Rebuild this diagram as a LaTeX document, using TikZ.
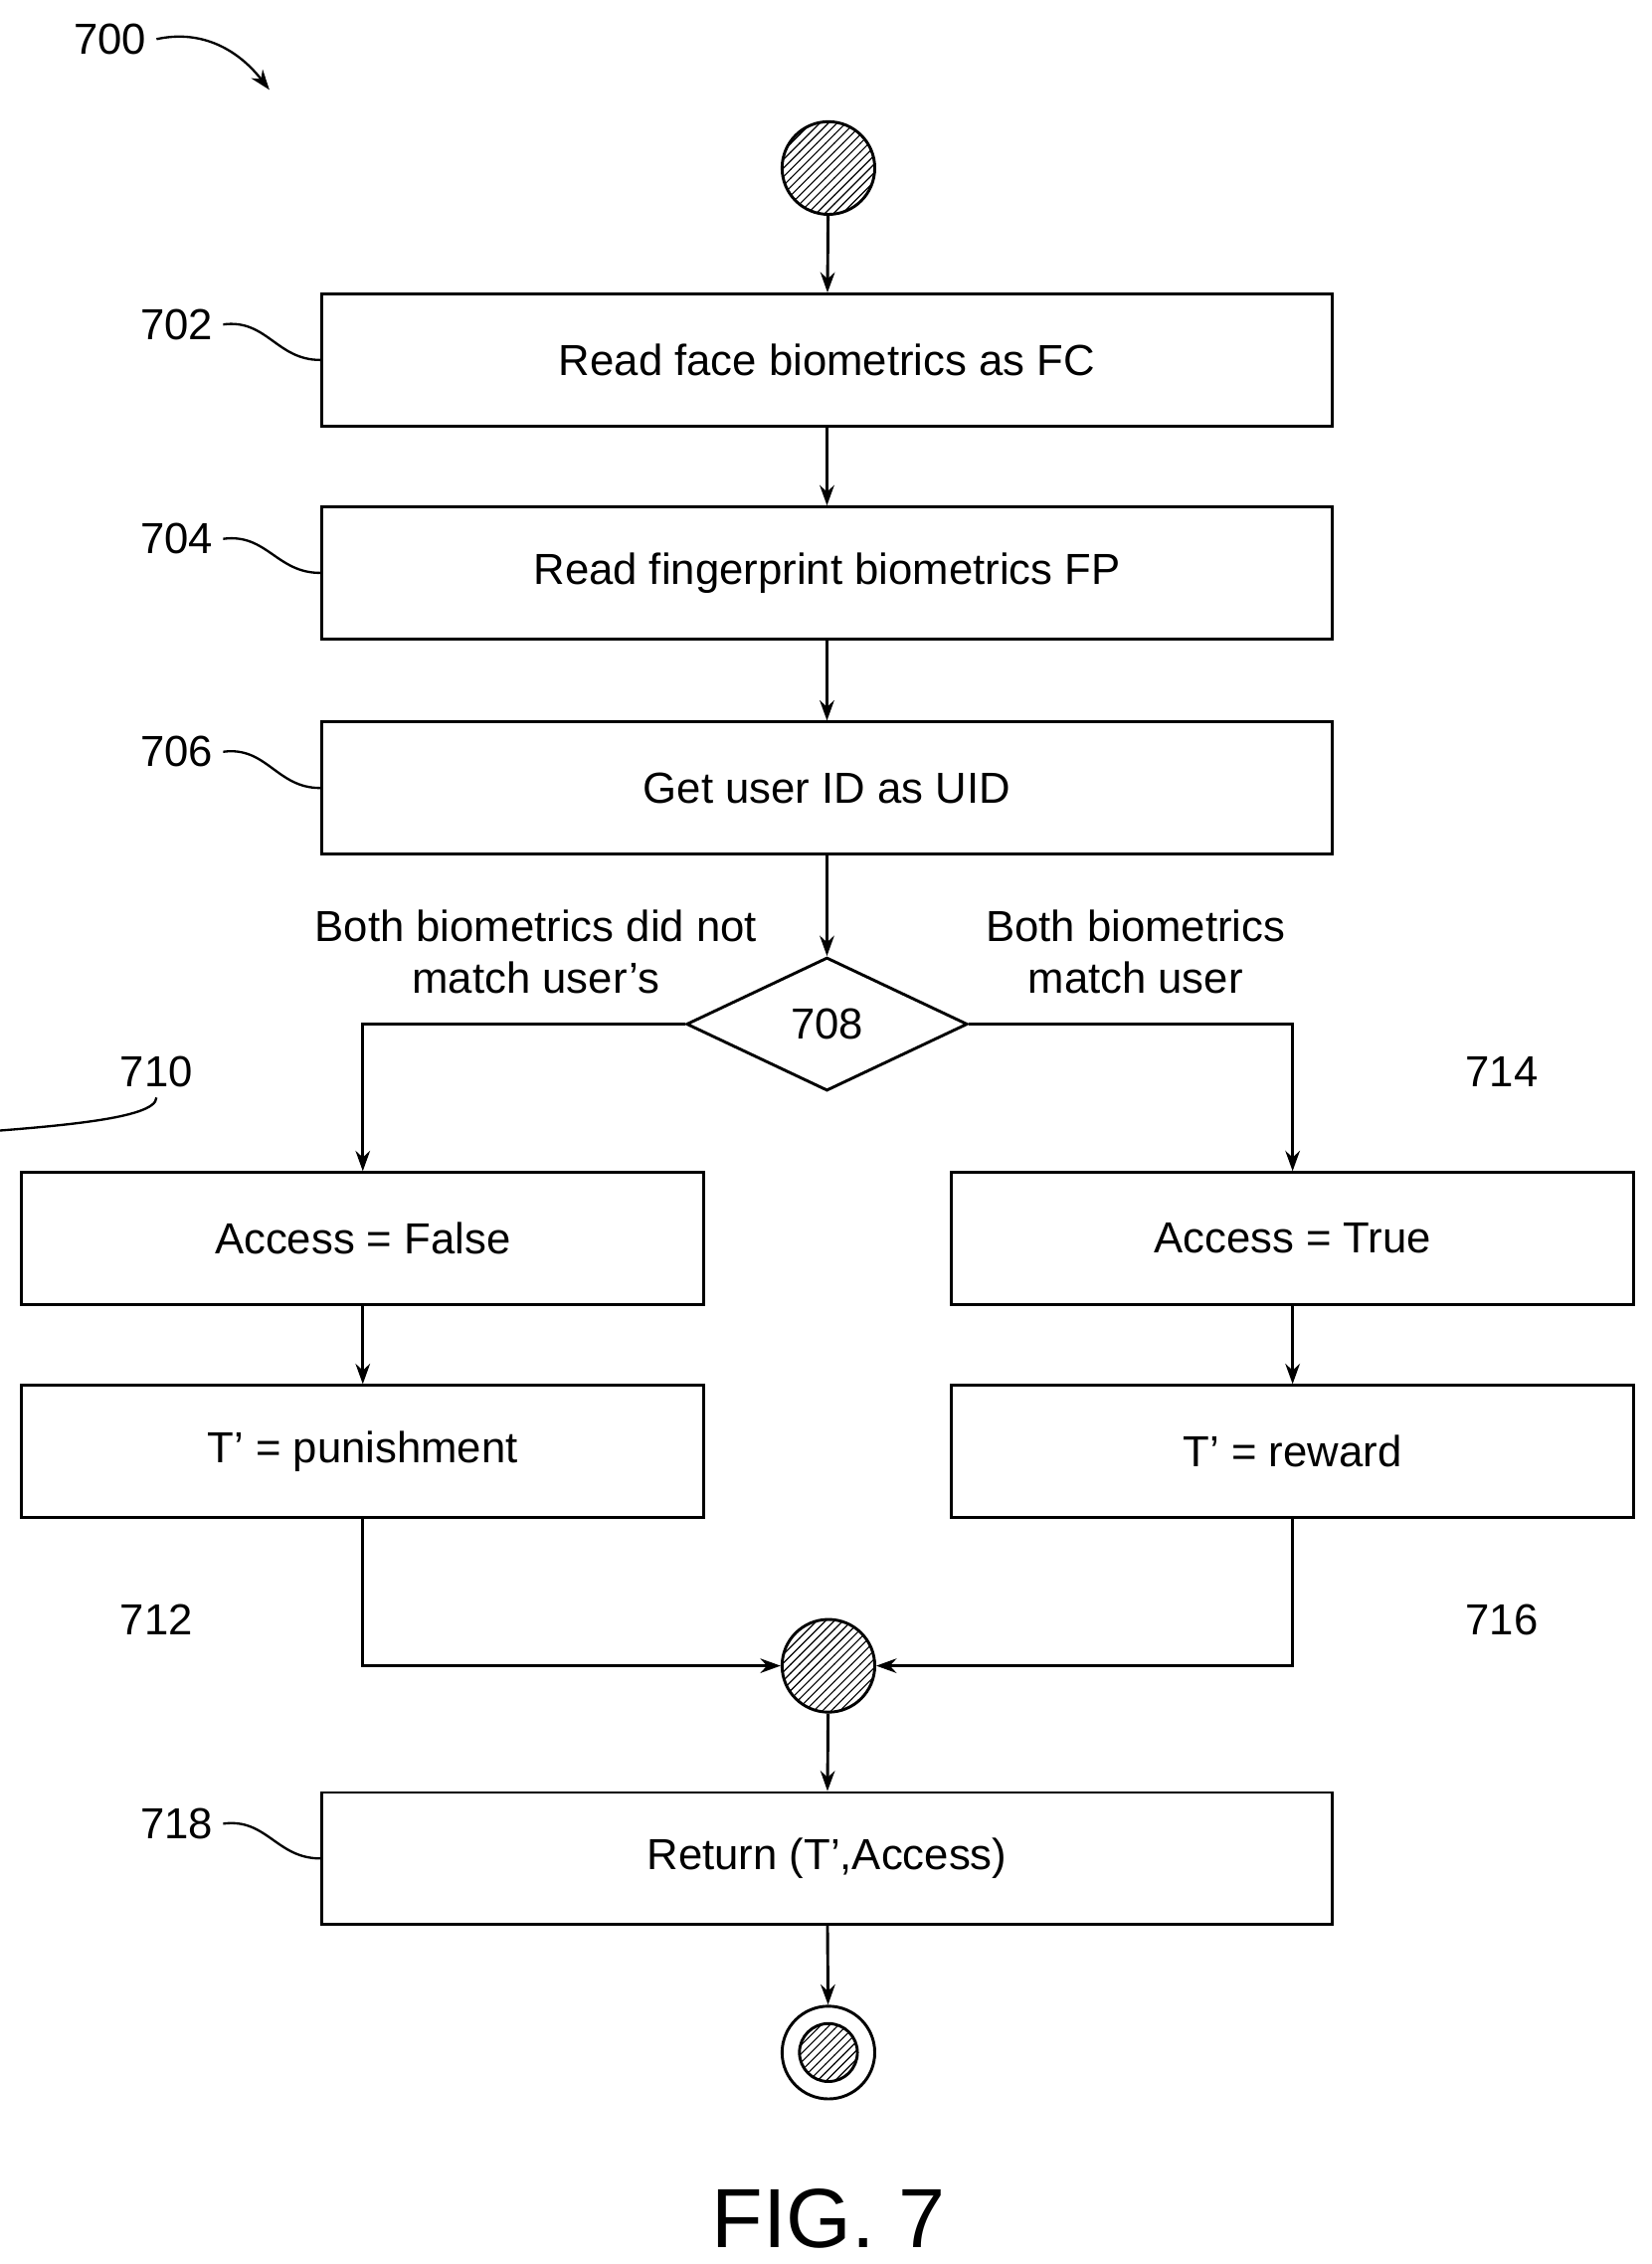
\documentclass[tikz,border=0pt]{standalone}
\usepackage{fontspec}
\setmainfont{Liberation Sans}
\usetikzlibrary{arrows.meta,shapes.geometric,patterns}
\begin{document}
\begin{tikzpicture}[x=0.5pt,y=-0.5pt,
  box/.style={draw,line width=1pt,minimum height=45.5pt,inner sep=0pt,font=\fontsize{15}{18}\selectfont},
  lbl/.style={font=\fontsize{15}{18}\selectfont},
  ar/.style={line width=1pt,-{Stealth[length=7pt,width=5pt]}},
  sq/.style={line width=0.8pt},
  hc/.style={draw,line width=1pt,circle,inner sep=0pt,pattern=north east lines}]
\useasboundingbox (0,0) rectangle (1140,1563);
\node[hc,minimum size=32pt] (s) at (572,116) {};
\node[box,minimum width=349pt] (b702) at (571,248.5) {Read face biometrics as FC};
\node[box,minimum width=349pt] (b704) at (571,395.5) {Read fingerprint biometrics FP};
\node[box,minimum width=349pt] (b706) at (571,544) {Get user ID as UID};
\node[draw,line width=1pt,diamond,aspect=2.1,minimum width=97pt,minimum height=46pt,inner sep=0pt,lbl] (d) at (571,707) {708};
\node[box,minimum width=235.5pt] (b710) at (250.5,855) {Access = False};
\node[box,minimum width=235.5pt] (b712) at (250.5,1002) {T' = punishment};
\node[box,minimum width=235.5pt] (b714) at (892.5,855) {Access = True};
\node[box,minimum width=235.5pt] (b716) at (892.5,1002) {T' = reward};
\node[hc,minimum size=32pt] (m) at (572,1150) {};
\node[box,minimum width=349pt] (b718) at (571,1283) {Return (T',Access)};
\node[draw,line width=1pt,circle,minimum size=32pt,inner sep=0pt] (e) at (572,1417) {};
\node[hc,minimum size=20pt] (ei) at (572,1417) {};
\node[font=\fontsize{29}{34}\selectfont] (fig) at (572,1532) {FIG. 7};
\draw[ar] (s) -- (b702);
\draw[ar] (b702) -- (b704);
\draw[ar] (b704) -- (b706);
\draw[ar] (b706) -- (d);
\draw[ar] (d.west) -| (b710.north);
\draw[ar] (d.east) -| (b714.north);
\draw[ar] (b710) -- (b712);
\draw[ar] (b714) -- (b716);
\draw[ar] (b712.south) |- (m.west);
\draw[ar] (b716.south) |- (m.east);
\draw[ar] (m) -- (b718);
\draw[ar] (b718) -- (e);
\node[lbl,align=center] (t1) at (370,657) {Both biometrics did not\\match user's};
\node[lbl,align=center] (t2) at (784,657) {Both biometrics\\match user};
\node[lbl] (l700) at (76,27) {700};
\node[lbl] (l702) at (122,224) {702};
\node[lbl] (l704) at (122,372) {704};
\node[lbl] (l706) at (122,519) {706};
\node[lbl] (l718) at (122,1259) {718};
\node[lbl] (l710) at (108,740) {710};
\node[lbl] (l714) at (1037,740) {714};
\node[lbl] (l712) at (108,1118) {712};
\node[lbl] (l716) at (1037,1118) {716};
\coordinate (a700) at (186,62);
\draw[sq,-{Stealth[length=7pt,width=5pt]}] (l700.east) .. controls (140,20) and (165,35) .. (a700);
\foreach \n/\b/\y in {l702/b702/248.5,l704/b704/395.5,l706/b706/544,l718/b718/1283}{
  \draw[sq] (\n.east) .. controls +(30,-4) and +(-30,0) .. (\b.west);}
\draw[sq] (l710.south) .. controls +(0,30) and +(0,-30) .. ([xshift=-120\pgflinewidth]b710.north west) ;
\end{tikzpicture}
\end{document}
